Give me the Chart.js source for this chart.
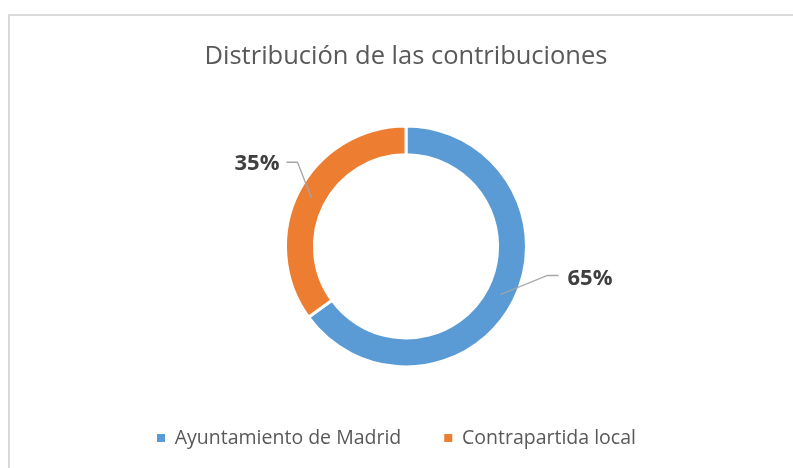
<!DOCTYPE html>
<html>
<head>
<meta charset="utf-8">
<script src="https://cdn.jsdelivr.net/npm/chart.js@4/dist/chart.umd.min.js"></script>
<style>
    html, body { margin: 0; padding: 0; background: #fff; }
    #wrap { width: 793px; height: 468px; }
</style>
</head>
<body>
<div id="wrap"><canvas id="donutChart" width="793" height="468"></canvas></div>
<script>
const chartTitle = 'Distribución de las contribuciones';
const categories = ['Ayuntamiento de Madrid', 'Contrapartida local'];
const shares = [65, 35];
const sliceColors = ['#5B9BD5', '#ED7D31'];

// leader line offsets (px) from the slice middle, one per slice
const leaderStyle = [
    { elbow: [47, -19], end: [58, -19], side: 'right' },
    { elbow: [-14, -36], end: [-25, -36], side: 'left' }
];

const framePlugin = {
    id: 'frame',
    beforeDraw(chart) {
        const ctx = chart.ctx;
        ctx.save();
        ctx.strokeStyle = '#d9d9d9';
        ctx.lineWidth = 2;
        ctx.beginPath();
        ctx.moveTo(9, chart.height + 5);
        ctx.lineTo(9, 15);
        ctx.lineTo(chart.width + 5, 15);
        ctx.stroke();
        ctx.restore();
    }
};

const labelPlugin = {
    id: 'sliceLabels',
    afterDatasetsDraw(chart) {
        const ctx = chart.ctx;
        const meta = chart.getDatasetMeta(0);
        const values = chart.data.datasets[0].data;
        const total = values.reduce((a, b) => a + b, 0);
        meta.data.forEach((arc, i) => {
            const p = arc.getProps(['x', 'y', 'startAngle', 'endAngle', 'innerRadius', 'outerRadius'], true);
            const mid = (p.startAngle + p.endAngle) / 2;
            const r = (p.innerRadius + p.outerRadius) / 2;
            const ax = p.x + Math.cos(mid) * r;
            const ay = p.y + Math.sin(mid) * r;
            const s = leaderStyle[i];
            ctx.save();
            ctx.strokeStyle = '#a6a6a6';
            ctx.lineWidth = 1.3;
            ctx.beginPath();
            ctx.moveTo(ax, ay);
            ctx.lineTo(ax + s.elbow[0], ay + s.elbow[1]);
            ctx.lineTo(ax + s.end[0], ay + s.end[1]);
            ctx.stroke();
            ctx.fillStyle = '#404040';
            ctx.font = 'bold 22px "Open Sans"';
            ctx.textBaseline = 'middle';
            const txt = Math.round(values[i] / total * 100) + '%';
            if (s.side === 'right') {
                ctx.textAlign = 'left';
                ctx.fillText(txt, ax + s.end[0] + 9, ay + s.end[1] + 3);
            } else {
                ctx.textAlign = 'right';
                ctx.fillText(txt, ax + s.end[0] - 7, ay + s.end[1] + 2);
            }
            ctx.restore();
        });
    }
};

new Chart(document.getElementById('donutChart'), {
    type: 'doughnut',
    data: {
        labels: categories,
        datasets: [{
            data: shares,
            backgroundColor: sliceColors,
            borderColor: '#ffffff',
            borderWidth: 3
        }]
    },
    options: {
        responsive: false,
        animation: false,
        events: [],
        cutout: '76%',
        radius: 120.5,
        layout: {
            padding: { left: 114, right: 95, top: 0, bottom: 10.25 }
        },
        plugins: {
            title: {
                display: true,
                text: chartTitle,
                color: '#595959',
                font: { family: '"Open Sans"', size: 25.5, weight: 'normal', lineHeight: 1.2 },
                padding: { top: 41.7, bottom: 35.2 }
            },
            legend: {
                position: 'bottom',
                align: 'start',
                labels: {
                    boxWidth: 8,
                    boxHeight: 8,
                    padding: 43,
                    color: '#595959',
                    font: { family: '"Open Sans"', size: 19.5 },
                    generateLabels(chart) {
                        const items = Chart.overrides.doughnut.plugins.legend.labels.generateLabels(chart);
                        return items.map(item => Object.assign(item, { lineWidth: 0, strokeStyle: item.fillStyle }));
                    }
                }
            },
            tooltip: { enabled: false }
        }
    },
    plugins: [framePlugin, labelPlugin]
});
</script>
</body>
</html>
